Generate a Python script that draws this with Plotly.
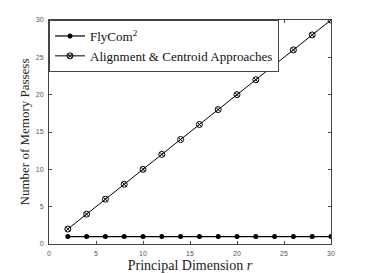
import plotly.graph_objects as go

r_values = [2, 4, 6, 8, 10, 12, 14, 16, 18, 20, 22, 24, 26, 28, 30]
flycom_passes = [1] * 15
alignment_passes = [2, 4, 6, 8, 10, 12, 14, 16, 18, 20, 22, 24, 26, 28, 30]
x_ticks = [0, 5, 10, 15, 20, 25, 30]
y_ticks = [0, 5, 10, 15, 20, 25, 30]

fig = go.Figure()
fig.add_trace(go.Scatter(
    x=r_values, y=flycom_passes, mode="lines+markers", name="FlyCom<sup>2</sup>",
    line=dict(color="black", width=1.2),
    marker=dict(symbol="circle", size=5, color="black"),
))
fig.add_trace(go.Scatter(
    x=r_values, y=alignment_passes, mode="lines+markers", name="Alignment & Centroid Approaches",
    line=dict(color="black", width=1),
    marker=dict(symbol="circle-x-open", size=6, color="black", line=dict(width=1)),
))

axis_common = dict(
    showline=True, linecolor="#444", linewidth=1, mirror="ticks",
    ticks="inside", ticklen=3, tickcolor="#444", showgrid=False, zeroline=False,
    ticklabelstandoff=3, automargin=False,
    tickfont=dict(family="Liberation Sans, Arial", size=7, color="#555"),
)
fig.update_xaxes(range=[0, 30], tickvals=x_ticks, **axis_common,
                 title=dict(text="Principal Dimension <i>r</i>", standoff=3,
                            font=dict(family="Liberation Serif, Times New Roman", size=14, color="#222")))
fig.update_yaxes(range=[0, 30], tickvals=y_ticks, **axis_common,
                 title=dict(text="Number of Memory Passess", standoff=3,
                            font=dict(family="Liberation Serif, Times New Roman", size=13, color="#222")))

fig.update_layout(
    width=366, height=274,
    margin=dict(l=49, r=35, t=20, b=30),
    plot_bgcolor="white", paper_bgcolor="white",
    legend=dict(x=0, y=1, xanchor="left", yanchor="top",
                bordercolor="#444", borderwidth=1, bgcolor="white",
                font=dict(family="Liberation Serif, Times New Roman", size=13, color="#111"),
                tracegroupgap=0, itemwidth=30),
)
fig.write_html("out.html", config={"displayModeBar": False},
               post_script="document.body.style.margin='0px';")
